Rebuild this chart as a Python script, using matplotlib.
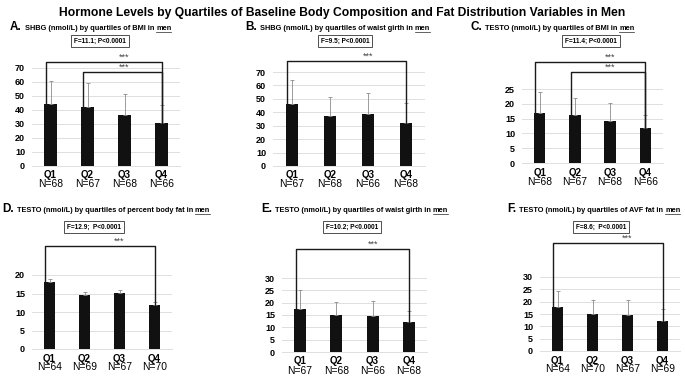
import numpy as np
import matplotlib.pyplot as plt
from matplotlib.lines import Line2D
from matplotlib.transforms import offset_copy

plt.rcParams['font.family'] = ['Liberation Sans', 'DejaVu Sans']

W, H = 685, 376

quartiles = ['Q1', 'Q2', 'Q3', 'Q4']

# panel data: means, upper error ends, group sizes
a_mean = [44.5, 42.0, 36.5, 30.5]
a_top = [61.0, 59.5, 51.5, 43.5]
a_n = [68, 67, 68, 66]

b_mean = [46.5, 37.0, 38.5, 32.0]
b_top = [64.0, 51.5, 54.5, 47.0]
b_n = [67, 68, 66, 68]

c_mean = [17.0, 16.2, 14.2, 11.8]
c_top = [24.0, 22.0, 20.2, 16.2]
c_n = [68, 67, 68, 66]

d_mean = [18.0, 14.5, 15.2, 12.0]
d_top = [19.0, 15.3, 16.0, 12.7]
d_n = [64, 69, 67, 70]

e_mean = [17.5, 15.0, 14.6, 12.3]
e_top = [25.0, 20.3, 20.8, 16.7]
e_n = [67, 68, 66, 68]

f_mean = [17.7, 15.2, 14.6, 12.3]
f_top = [24.5, 20.8, 20.8, 17.2]
f_n = [64, 70, 67, 69]

titles = ['SHBG (nmol/L) by quartiles of BMI in',
          'SHBG (nmol/L) by quartiles of waist girth in',
          'TESTO (nmol/L) by quartiles of BMI in',
          'TESTO (nmol/L) by quartiles of percent body fat in',
          'TESTO (nmol/L) by quartiles of waist girth in',
          'TESTO (nmol/L) by quartiles of AVF fat in']
stats = ['F=11.1; P<0.0001', 'F=9.5; P<0.0001', 'F=11.4; P<0.0001',
         'F=12.9;  P<0.0001', 'F=10.2; P<0.0001', 'F=8.6;  P<0.0001']
pairs = [[(0, 3), (1, 3)], [(0, 3)], [(0, 3), (1, 3)],
         [(0, 3)], [(0, 3)], [(0, 3)]]
ymax = [70, 70, 25, 20, 30, 30]
ystep = [10, 10, 5, 5, 5, 5]

# layout in pixels: axes (x0, x1, ytop, ybottom), title pos, box center, bracket pixel y's
axes_px = [(32, 180, 68, 166), (273, 425, 72, 166), (522, 663, 89, 163),
           (32, 172, 275, 349), (282, 427, 278, 352), (540, 680, 277, 351)]
title_px = [(10, 30), (245, 30), (470, 30), (2, 212), (261, 212), (507, 212)]
box_px = [(100, 41), (345, 41), (591, 41), (94, 227), (352, 227), (601, 227)]
bracket_px = [[62, 72], [61], [62, 72], [246], [249], [243]]

means = [a_mean, b_mean, c_mean, d_mean, e_mean, f_mean]
tops = [a_top, b_top, c_top, d_top, e_top, f_top]
ns = [a_n, b_n, c_n, d_n, e_n, f_n]
letters = 'ABCDEF'

fig = plt.figure(figsize=(W / 100, H / 100), dpi=100)
fig.text(0.5, 1 - 13 / H, 'Hormone Levels by Quartiles of Baseline Body Composition and Fat Distribution Variables in Men',
         ha='center', va='center', fontsize=8.7, weight='bold')
r = fig.canvas.get_renderer()

for k in range(6):
    x0, x1, yt, yb = axes_px[k]
    ax = fig.add_axes([x0 / W, 1 - yb / H, (x1 - x0) / W, (yb - yt) / H])
    x = np.arange(4)
    m = np.array(means[k])
    up = np.array(tops[k]) - m
    ax.bar(x, m, width=0.33, color='#111111', zorder=3)
    ax.errorbar(x, m, yerr=[np.zeros(4), up], fmt='none', ecolor='#8c8c8c',
                elinewidth=0.6, capsize=1.2, capthick=0.6, zorder=4)
    ax.set_xlim(-0.5, 3.5)
    ax.set_ylim(0, ymax[k])
    ax.set_yticks(np.arange(0, ymax[k] + 1, ystep[k]))
    ax.tick_params(axis='y', length=0, labelsize=6.5, pad=5)
    for lab in ax.get_yticklabels():
        lab.set_fontweight('bold')
    ax.set_xticks(x)
    ax.set_xticklabels([])
    ax.tick_params(axis='x', length=0)
    xt = ax.get_xaxis_transform()
    for i in range(4):
        ax.text(i, 0, quartiles[i], transform=offset_copy(xt, fig, y=-9.5, units='dots'),
                ha='center', va='center', fontsize=7, weight='bold')
        ax.text(i, 0, 'N=%d' % ns[k][i], transform=offset_copy(xt, fig, y=-18.5, units='dots'),
                ha='center', va='center', fontsize=7.4)
    ax.grid(axis='y', color='#d9d9d9', linewidth=0.6, zorder=0)
    for s in ['top', 'right', 'left']:
        ax.spines[s].set_visible(False)
    ax.spines['bottom'].set_color('#d9d9d9')
    ax.spines['bottom'].set_linewidth(0.6)

    # significance brackets
    scale = ymax[k] / (yb - yt)
    for (i, j), py in zip(pairs[k], bracket_px[k]):
        yy = ymax[k] + (yt - py) * scale
        xs = [i - 0.12, i - 0.12, j, j]
        ys = [m[i], yy, yy, m[j]]
        ax.plot(xs, ys, color='#1a1a1a', lw=1.0, clip_on=False, zorder=5)
        ax.text(2.0, yy + 0.3 * scale, '***', ha='center', va='bottom',
                fontsize=6.5, color='#444444', clip_on=False)

    # stat box
    bx, by = box_px[k]
    fig.text(bx / W, 1 - by / H, stats[k], ha='center', va='center', fontsize=4.7,
             weight='bold',
             bbox=dict(boxstyle='square,pad=0.45', fc='white', ec='#333333', lw=0.6))

    # panel title with underlined "men"
    tx, ty = title_px[k]
    t1 = fig.text(tx / W, 1 - ty / H, letters[k] + '.', fontsize=8.5, weight='bold',
                  va='baseline')
    bb = t1.get_window_extent(r)
    t2 = fig.text((bb.x1 + 3) / W, 1 - ty / H, titles[k], fontsize=5.3,
                  weight='bold', va='baseline')
    bb2 = t2.get_window_extent(r)
    t3 = fig.text((bb2.x1 + 2) / W, 1 - ty / H, 'men', fontsize=5.3,
                  weight='bold', va='baseline')
    bb3 = t3.get_window_extent(r)
    fig.add_artist(Line2D([bb3.x0 / W, bb3.x1 / W], [(bb3.y0 + 0.5) / H] * 2,
                          transform=fig.transFigure, lw=0.5, color='#222222'))

fig.savefig('out.png', dpi=100)
